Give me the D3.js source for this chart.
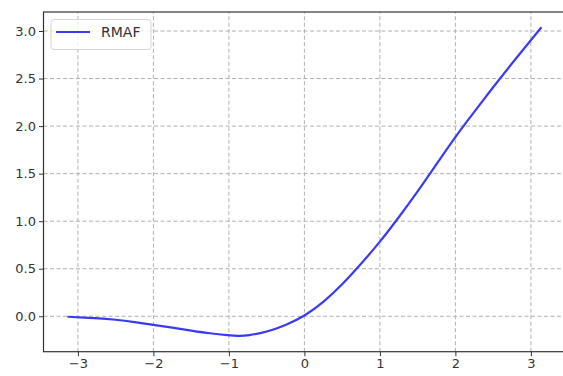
<!DOCTYPE html>
<html>
<head>
<meta charset="utf-8">
<script src="https://cdn.jsdelivr.net/npm/d3@7"></script>
<style>
  body { margin: 0; background: #fff; }
  svg { display: block; font-family: "DejaVu Sans", sans-serif; }
</style>
</head>
<body>
<script>
// values
var xs = [-3.14, -2.75, -2.5, -2.25, -2.0, -1.75, -1.5, -1.25, -1.0, -0.875, -0.75, -0.5, -0.25, 0.0,
		  0.25, 0.5, 0.75, 1.0, 1.25, 1.5, 1.75, 2.0, 2.25, 2.5, 2.75, 3.14];
var ys = [-0.005, -0.02, -0.035, -0.06, -0.09, -0.12, -0.15, -0.18, -0.2, -0.207, -0.204, -0.165, -0.095, 0.0,
		  0.145, 0.33, 0.55, 0.78, 1.04, 1.31, 1.6, 1.89, 2.15, 2.41, 2.66, 3.04];
var xTicks = [-3, -2, -1, 0, 1, 2, 3];
var yTicks = [0.0, 0.5, 1.0, 1.5, 2.0, 2.5, 3.0];
var seriesName = "RMAF";

var width = 563,
	height = 376;

var margin = {left: 43.5, top: 12, bottom: 24.3};

var svg = d3.select("body").append("svg")
	.attr("width", width)
	.attr("height", height);

var x = d3.scaleLinear()
	.domain([-3.456, 3.456])
	.range([margin.left, 565.3]);

var y = d3.scaleLinear()
	.domain([-0.3725, 3.2])
	.range([height - margin.bottom, margin.top]);

// grid
var grid = svg.append("g").attr("class", "grid");

grid.selectAll("line.gx")
	.data(xTicks)
	.enter().append("line")
	.attr("x1", function(d) { return x(d); })
	.attr("x2", function(d) { return x(d); })
	.attr("y1", y.range()[0])
	.attr("y2", y.range()[1])
	.attr("stroke", "#b0b0b0")
	.attr("stroke-width", 1)
	.attr("stroke-dasharray", "4,2.5");

grid.selectAll("line.gy")
	.data(yTicks)
	.enter().append("line")
	.attr("y1", function(d) { return y(d); })
	.attr("y2", function(d) { return y(d); })
	.attr("x1", x.range()[0])
	.attr("x2", x.range()[1])
	.attr("stroke", "#b0b0b0")
	.attr("stroke-width", 1)
	.attr("stroke-dasharray", "4,2.5");

// the curve
var points = xs.map(function(d, i) { return [d, ys[i]]; });

var line = d3.line()
	.x(function(d) { return x(d[0]); })
	.y(function(d) { return y(d[1]); })
	.curve(d3.curveBasis);

svg.append("path")
	.datum(points)
	.attr("fill", "none")
	.attr("stroke", "#3a3af5")
	.attr("stroke-width", 2.2)
	.attr("d", line);

// axes
var xAxis = svg.append("g")
	.attr("transform", "translate(0," + y.range()[0] + ")")
	.call(d3.axisBottom(x).tickValues(xTicks).tickSize(4.5).tickPadding(3)
		.tickFormat(function(d) { return d < 0 ? "\u2212" + Math.abs(d) : d; }));

var yAxis = svg.append("g")
	.attr("transform", "translate(" + margin.left + ",0)")
	.call(d3.axisLeft(y).tickValues(yTicks).tickSize(4.5).tickPadding(3)
		.tickFormat(d3.format(".1f")));

[xAxis, yAxis].forEach(function(ax) {
	ax.select(".domain").remove();
	ax.selectAll("line").attr("stroke", "#333").attr("stroke-width", 1);
	ax.selectAll("text")
		.attr("fill", "#333")
		.style("font-size", "13px")
		.style("font-family", "DejaVu Sans, sans-serif");
});

// spines (right one falls outside the window)
svg.append("rect")
	.attr("x", x.range()[0])
	.attr("y", y.range()[1])
	.attr("width", x.range()[1] - x.range()[0])
	.attr("height", y.range()[0] - y.range()[1])
	.attr("fill", "none")
	.attr("stroke", "#333")
	.attr("stroke-width", 1.2);

// legend
var legend = svg.append("g")
	.attr("transform", "translate(51,19.5)");

legend.append("rect")
	.attr("width", 100)
	.attr("height", 30)
	.attr("rx", 3)
	.attr("fill", "#fff")
	.attr("fill-opacity", 0.8)
	.attr("stroke", "#d5d5d5");

legend.append("line")
	.attr("x1", 5)
	.attr("x2", 39)
	.attr("y1", 12.5)
	.attr("y2", 12.5)
	.attr("stroke", "#3a3af5")
	.attr("stroke-width", 2.2);

legend.append("text")
	.attr("x", 50)
	.attr("y", 17.5)
	.attr("fill", "#333")
	.style("font-size", "14px")
	.text(seriesName);
</script>
</body>
</html>
